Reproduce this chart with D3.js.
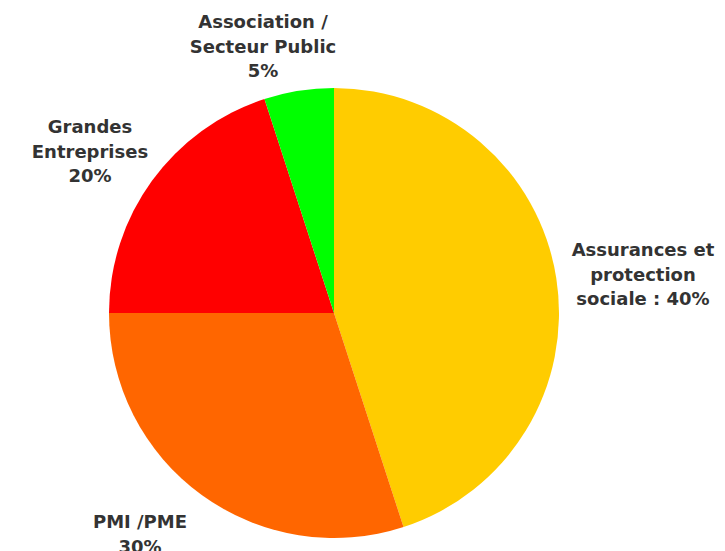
<!DOCTYPE html>
<html><head><meta charset="utf-8">
<script src="https://cdn.jsdelivr.net/npm/d3@7"></script>
<style>body{margin:0;background:#fff}svg{display:block}</style>
</head><body>
<svg id="c" width="725" height="551"></svg>
<script>
const categories = ["Assurances et protection sociale", "PMI /PME", "Grandes Entreprises", "Association / Secteur Public"];
const values = [45, 30, 20, 5];
const labelLines = [
  ["Assurances et", "protection", "sociale : 40%"],
  ["PMI /PME", "30%"],
  ["Grandes", "Entreprises", "20%"],
  ["Association /", "Secteur Public", "5%"]
];
const colors = ["#FFCC00", "#FF6600", "#FF0000", "#00FF00"];

const svg = d3.select("#c");
const cx = 334, cy = 313, r = 225;
const g = svg.append("g").attr("transform", `translate(${cx},${cy})`);
const pie = d3.pie().sort(null).value(d => d)(values);
const arc = d3.arc().innerRadius(0).outerRadius(r);
g.selectAll("path").data(pie).join("path")
  .attr("d", arc).attr("fill", (d, i) => colors[i]);

// label anchor positions (baseline of first line), page coords
const labelPos = [[643, 256], [140, 528], [90, 133], [263, 28]];
const lh = 24.5;
labelLines.forEach((lines, i) => {
  const t = svg.append("text")
    .attr("text-anchor", "middle")
    .attr("font-family", "DejaVu Sans, Verdana, sans-serif")
    .attr("font-weight", "bold")
    .attr("font-size", "18px")
    .attr("fill", "#333333");
  lines.forEach((l, j) => {
    t.append("tspan").attr("x", labelPos[i][0]).attr("y", labelPos[i][1] + j * lh).text(l);
  });
});
</script>
</body></html>
